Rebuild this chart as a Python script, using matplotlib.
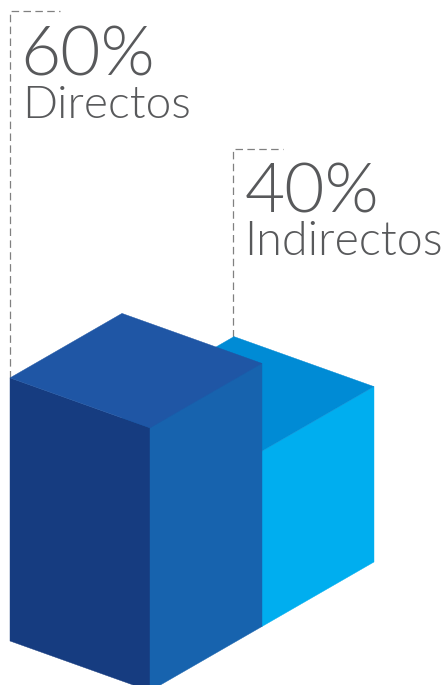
from matplotlib import pyplot as plt
from matplotlib import font_manager
from matplotlib.patches import Polygon

categories = ['Directos', 'Indirectos']
values = [60, 40]
top_colors = ['#1f56a5', '#008bd5']
left_colors = ['#163c80', '#0079c0']
right_colors = ['#1763ae', '#00aeef']

# bottom left corner of the front box, and one step along each edge, in pixels
origin = (10, 641)
u_step = (140, 50)
v_step = (112, -64.5)
px_per_percent = 4.385

def project(u, v, z):
    x = origin[0] + u * u_step[0] + v * v_step[0]
    y = origin[1] + u * u_step[1] + v * v_step[1] - z * px_per_percent
    return (x, y)

def draw_box(ax, v0, height, top, left, right):
    # left face, right face, then the lid
    faces = [
        ([(0, v0, 0), (1, v0, 0), (1, v0, height), (0, v0, height)], left),
        ([(1, v0, 0), (1, v0 + 1, 0), (1, v0 + 1, height), (1, v0, height)], right),
        ([(0, v0, height), (1, v0, height), (1, v0 + 1, height), (0, v0 + 1, height)], top),
    ]
    for corners, color in faces:
        pts = [project(*c) for c in corners]
        ax.add_patch(Polygon(pts, closed=True, facecolor=color, edgecolor=color, linewidth=0.3))

def draw_leader(ax, anchor, top_y, length):
    xs = [anchor[0], anchor[0], anchor[0] + length]
    ys = [anchor[1], top_y, top_y]
    ax.plot(xs, ys, color='#808080', linewidth=0.9, dashes=(6, 3.5), zorder=0)

def light_font(size):
    # weight='light' lands on the hairline cut, so look for the file itself
    for path in font_manager.findSystemFonts():
        if path.endswith('Lato-Light.ttf'):
            return font_manager.FontProperties(fname=path, size=size)
    return font_manager.FontProperties(family='Open Sans', weight='light', size=size)

fig = plt.figure(figsize=(4.47, 6.85), dpi=100)
ax = fig.add_axes([0, 0, 1, 1])
ax.set_xlim(0, 447)
ax.set_ylim(685, 0)
ax.axis('off')

# back box first so the tall one covers it
draw_box(ax, 1, values[1], top_colors[1], left_colors[1], right_colors[1])
draw_box(ax, 0, values[0], top_colors[0], left_colors[0], right_colors[0])

back_corner = project(0, 2, values[1])
draw_leader(ax, project(0, 0, values[0]), 11, 50)
draw_leader(ax, (back_corner[0] - 1.5, back_corner[1]), 149, 50)

text_color = '#58595b'
ax.text(20, 75, f'{values[0]}%', fontproperties=light_font(50), color=text_color)
ax.text(22, 118, categories[0], fontproperties=light_font(33.2), color=text_color)
ax.text(244.5, 212, f'{values[1]}%', fontproperties=light_font(50), color=text_color)
ax.text(244, 255, categories[1], fontproperties=light_font(33.6), color=text_color)

fig.savefig('out.png', dpi=100)
